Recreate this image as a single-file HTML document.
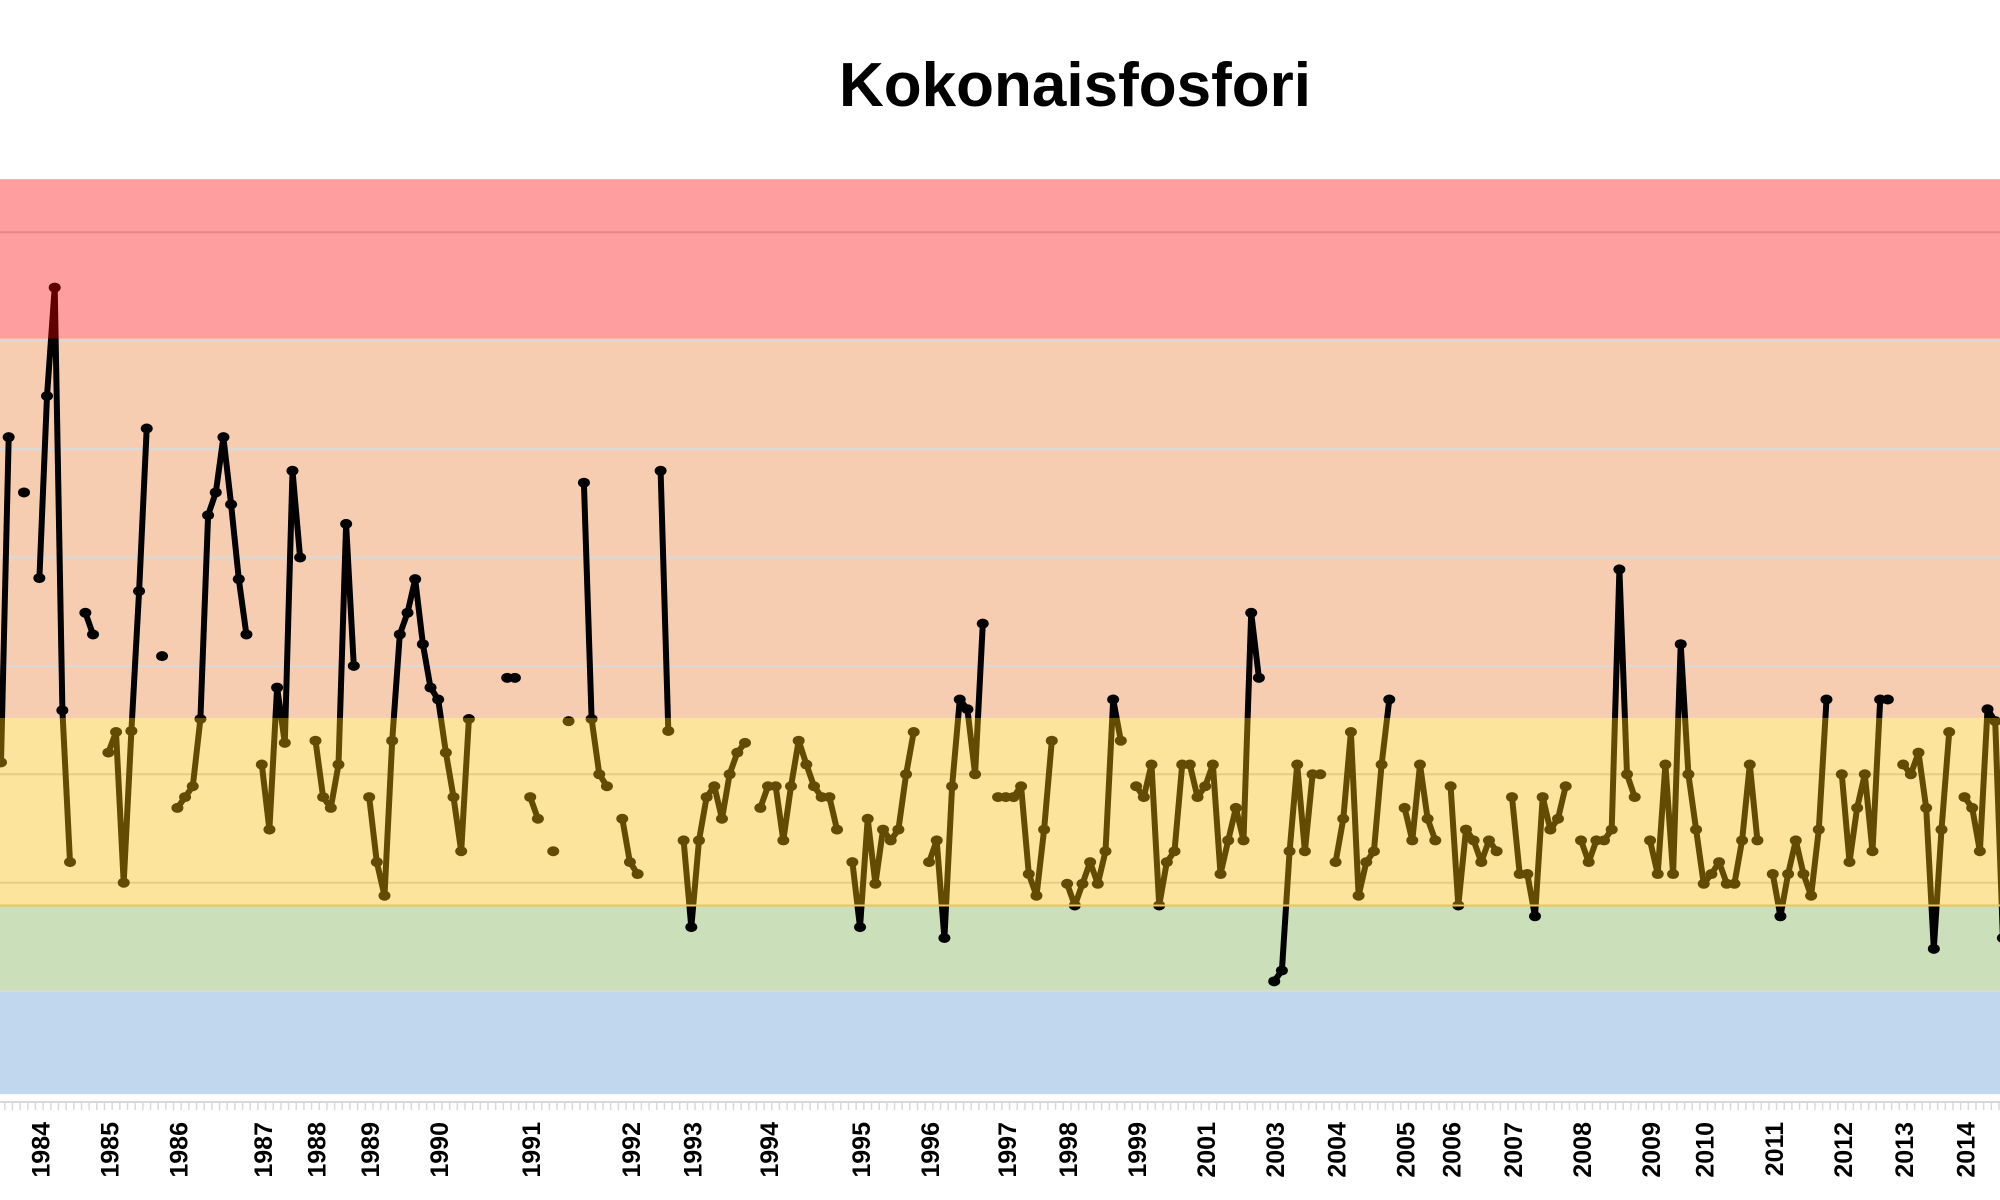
<!DOCTYPE html>
<html><head><meta charset="utf-8"><style>
html,body{margin:0;padding:0;background:#fff;}
svg{display:block;font-family:"Liberation Sans",sans-serif;}
</style></head><body>
<svg id="chart" width="2000" height="1200" viewBox="0 0 2000 1200">
<text x="1075" y="106" text-anchor="middle" font-size="62" font-weight="bold" fill="#000">Kokonaisfosfori</text>
<g id="bands"></g><g id="grid"></g><g id="series"></g><g id="overlay"></g><g id="xaxis"></g>
</svg>
<script>
const sampleIdx = [0,1,3,5,6,7,8,9,11,12,14,15,16,17,18,19,21,23,24,25,26,27,28,29,30,31,32,34,35,36,37,38,39,41,42,43,44,45,46,48,49,50,51,52,53,54,55,56,57,58,59,60,61,66,67,69,70,72,74,76,77,78,79,81,82,83,86,87,89,90,91,92,93,94,95,96,97,99,100,101,102,103,104,105,106,107,108,109,111,112,113,114,115,116,117,118,119,121,122,123,124,125,126,127,128,130,131,132,133,134,135,136,137,139,140,141,142,143,144,145,146,148,149,150,151,152,153,154,155,156,157,158,159,160,161,162,163,164,166,167,168,169,170,171,172,174,175,176,177,178,179,180,181,183,184,185,186,187,189,190,191,192,193,194,195,197,198,199,200,201,202,203,204,206,207,208,209,210,211,212,213,215,216,217,218,219,220,221,222,223,224,225,226,227,228,229,231,232,233,234,235,236,237,238,240,241,242,243,244,245,246,248,249,250,251,252,253,254,256,257,258,259,260,261,262];
const sampleVal = [31.1,61.1,56,48.1,64.9,74.9,35.9,21.9,44.9,42.9,32,33.9,20,34,46.9,61.9,40.9,26.9,27.9,28.9,35.1,53.9,56,61.1,54.9,48,42.9,30.9,24.9,38,32.9,58,50,33.1,27.9,26.9,30.9,53.1,40,27.9,21.9,18.8,33.1,42.9,44.9,48,42,38,36.9,32,27.9,22.9,35.1,38.9,38.9,27.9,25.9,22.9,34.9,56.9,35.1,30,28.9,25.9,21.9,20.8,58,34,23.9,15.9,23.9,27.9,28.9,25.9,30,32,32.9,26.9,28.9,28.9,23.9,28.9,33.1,30.9,28.9,27.9,27.9,24.9,21.9,15.9,25.9,19.9,24.9,23.9,24.9,30,33.9,21.9,23.9,14.9,28.9,36.9,36,30,43.9,27.9,27.9,27.9,28.9,20.8,18.8,24.9,33.1,19.9,17.9,19.9,21.9,19.9,22.9,36.9,33.1,28.9,27.9,30.9,17.9,21.9,22.9,30.9,30.9,27.9,28.9,30.9,20.8,23.9,26.9,23.9,44.9,38.9,10.9,11.9,22.9,30.9,22.9,30,30,21.9,25.9,33.9,18.8,21.9,22.9,30.9,36.9,26.9,23.9,30.9,25.9,23.9,28.9,17.9,24.9,23.9,21.9,23.9,22.9,27.9,20.8,20.8,16.9,27.9,24.9,25.9,28.9,23.9,21.9,23.9,23.9,24.9,48.9,30,27.9,23.9,20.8,30.9,20.8,42,30,24.9,19.9,20.8,21.9,19.9,19.9,23.9,30.9,23.9,20.8,16.9,20.8,23.9,20.8,18.8,24.9,36.9,30,21.9,26.9,30,22.9,36.9,36.9,30.9,30,32,26.9,13.9,24.9,33.9,27.9,26.9,22.9,36,34.9,14.9,37.9];
const yearLabels = ["1984","1985","1986","1987","1988","1989","1990","1991","1992","1993","1994","1995","1996","1997","1998","1999","2001","2003","2004","2005","2006","2007","2008","2009","2010","2011","2012","2013","2014"];
const yearIdx = [5,14,23,34,41,48,57,69,82,90,100,112,121,131,139,148,157,166,174,183,189,197,206,215,222,231,240,248,256];
const bandNames = ["blue","green","yellow","orange","red"];
const bandLo = [0.5,10,17.9,35.2,70.2];
const bandHi = [10,17.9,35.2,70.2,84.9];
const gridVals = [10,20,30,40,50,60,70,80];

const NS="http://www.w3.org/2000/svg";
const STEP=7.67;
const xs=i=>i*STEP+1;
const ys=v=>1099.5-10.84*v;
function mk(tag,attrs,parent){const e=document.createElementNS(NS,tag);for(const k in attrs)e.setAttribute(k,attrs[k]);parent.appendChild(e);return e;}
const bands=document.getElementById('bands'),grid=document.getElementById('grid'),series=document.getElementById('series'),overlay=document.getElementById('overlay'),xaxis=document.getElementById('xaxis');
const bandFill={blue:"#c0d7ee",green:"#cadfba",orange:"#f6cdb0"};
for(let b=0;b<bandNames.length;b++){
  const n=bandNames[b];
  if(n==="yellow"||n==="red"){
    const fill=n==="yellow"?"rgba(250,187,7,0.4)":"rgba(255,0,0,0.38)";
    const r=mk('rect',{x:0,y:ys(bandHi[b]),width:2000,height:ys(bandLo[b])-ys(bandHi[b]),fill:fill},overlay);
    
    
  } else {
    const r=mk('rect',{x:0,y:ys(bandHi[b]),width:2000,height:ys(bandLo[b])-ys(bandHi[b]),fill:bandFill[n]},bands);
    
    
  }
}
for(const g of gridVals){
  const l=mk('line',{x1:0,x2:2000,y1:ys(g),y2:ys(g),stroke:"#d9d9d9","stroke-width":2},grid);
  
  
}
const bl=mk('line',{x1:0,x2:2000,y1:ys(17.9),y2:ys(17.9),stroke:"#ecc55a","stroke-width":2},overlay);


let d="";
for(let k=0;k<sampleIdx.length;k++){
  const x=xs(sampleIdx[k]),y=ys(sampleVal[k]);
  if(k>0&&sampleIdx[k]===sampleIdx[k-1]+1) d+=` L${x.toFixed(1)} ${y.toFixed(1)}`;
  else d+=` M${x.toFixed(1)} ${y.toFixed(1)}`;
}
const p=mk('path',{d:d,fill:"none",stroke:"#000","stroke-width":6,"stroke-linejoin":"round"},series);


for(let k=0;k<sampleIdx.length;k++){
  const c=mk('ellipse',{cx:xs(sampleIdx[k]),cy:ys(sampleVal[k]),rx:6,ry:5,fill:"#000"},series);
  
  
}
const ax=mk('line',{x1:0,x2:2000,y1:1102,y2:1102,stroke:"#d9d9d9","stroke-width":2},xaxis);


for(let i=0;i<=262;i++){
  const t=mk('line',{x1:xs(i)+3.8,x2:xs(i)+3.8,y1:1102,y2:1110,stroke:"#d9d9d9","stroke-width":1.5},xaxis);
  
  
}
for(let j=0;j<yearLabels.length;j++){
  const x=xs(yearIdx[j])+2,y=1122;
  const t=mk('text',{x:x,y:y,transform:`rotate(-90 ${x} ${y})`,"text-anchor":"end","dominant-baseline":"central","font-size":25,"font-weight":"bold",fill:"#000"},xaxis);
  t.textContent=yearLabels[j];
  
  
}
</script>
</body></html>
